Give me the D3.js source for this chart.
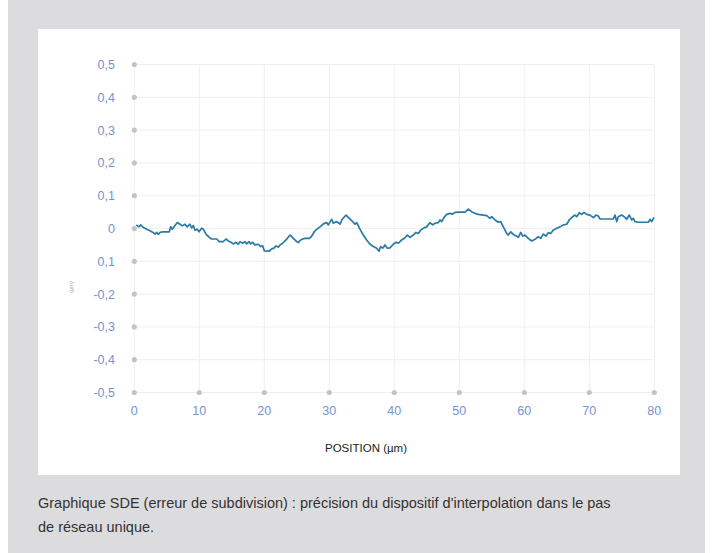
<!DOCTYPE html>
<html>
<head>
<meta charset="utf-8">
<script src="https://cdn.jsdelivr.net/npm/d3@7"></script>
<style>
  html, body { margin: 0; padding: 0; background: #ffffff; }
  svg { display: block; }
</style>
</head>
<body>
<svg id="chart" width="712" height="553"></svg>
<script>
const xTicks = [0, 10, 20, 30, 40, 50, 60, 70, 80];
const yTicks = [0.5, 0.4, 0.3, 0.2, 0.1, 0, -0.1, -0.2, -0.3, -0.4, -0.5];
const yTickLabels = ["0,5", "0,4", "0,3", "0,2", "0,1", "0", "0,1", "-0,2", "-0,3", "-0,4", "-0,5"];
const xTitle = "POSITION (µm)";
const yTitle = "(µm)";
const caption = ["Graphique SDE (erreur de subdivision) : précision du dispositif d'interpolation dans le pas", "de réseau unique."];

const posX = [0.3,0.72,0.98,1.34,1.91,2.42,2.88,3.18,3.45,3.69,3.95,4.46,5.38,5.6,5.85,6.26,6.62,7.03,7.38,7.8,8.15,8.57,8.83,9.08,9.34,9.69,9.95,10.37,10.62,11.03,11.54,11.91,12.68,13.08,13.69,14.11,14.46,14.88,15.23,15.65,16.0,16.26,16.68,17.03,17.29,17.65,17.91,18.22,18.57,19.08,19.45,19.75,20.0,20.77,21.14,21.49,21.8,22.15,22.42,22.83,23.18,23.54,23.95,24.22,24.46,24.88,25.23,25.6,25.91,26.26,26.92,27.29,27.8,28.3,28.57,29.08,29.6,29.85,30.37,30.62,31.03,31.38,31.65,31.91,32.57,33.08,33.6,33.95,34.22,34.72,35.23,35.75,36.26,36.77,37.29,37.65,37.91,38.22,38.57,38.92,39.34,39.85,40.26,40.62,41.14,41.65,42.0,42.42,42.92,43.34,43.69,44.06,44.57,44.98,45.49,45.91,46.26,46.77,47.03,47.29,47.65,48.06,48.57,48.98,49.34,50.11,50.88,51.38,51.91,52.42,52.92,53.69,54.22,54.72,54.98,55.49,56.0,56.37,56.77,57.03,57.29,57.54,57.91,58.31,58.72,59.08,59.45,59.75,60.11,60.62,61.14,61.65,62.15,62.52,62.92,63.34,63.69,64.06,64.46,64.98,65.49,66.0,66.52,66.92,67.45,67.8,68.06,68.46,68.83,69.18,69.6,70.11,70.62,71.03,71.38,71.65,72.68,73.69,73.95,74.22,74.46,74.98,75.49,75.75,76.15,76.52,76.77,77.03,77.54,78.31,79.08,79.34,79.6,79.95];
const sdeValues = [0.011,0.005,0.011,0.004,-0.002,-0.007,-0.012,-0.017,-0.012,-0.018,-0.012,-0.010,-0.010,0.005,-0.002,0.009,0.018,0.013,0.008,0.013,0.005,0.013,0.002,0.009,-0.005,-0.002,-0.010,0.001,-0.002,-0.017,-0.027,-0.032,-0.032,-0.040,-0.040,-0.032,-0.038,-0.042,-0.047,-0.042,-0.048,-0.040,-0.045,-0.040,-0.047,-0.040,-0.047,-0.042,-0.050,-0.048,-0.055,-0.053,-0.068,-0.069,-0.062,-0.060,-0.053,-0.057,-0.050,-0.045,-0.038,-0.030,-0.020,-0.025,-0.030,-0.038,-0.043,-0.035,-0.032,-0.030,-0.030,-0.023,-0.007,0.001,0.005,0.014,0.018,0.011,0.028,0.016,0.021,0.018,0.013,0.026,0.041,0.031,0.021,0.013,0.018,-0.002,-0.020,-0.035,-0.048,-0.055,-0.060,-0.069,-0.055,-0.060,-0.050,-0.060,-0.059,-0.048,-0.042,-0.045,-0.035,-0.028,-0.020,-0.027,-0.020,-0.012,-0.015,-0.005,0.002,0.005,0.018,0.011,0.016,0.018,0.026,0.021,0.034,0.043,0.046,0.044,0.049,0.050,0.050,0.059,0.051,0.046,0.043,0.041,0.039,0.031,0.036,0.026,0.019,0.021,0.005,-0.005,-0.015,-0.020,-0.010,-0.018,-0.022,-0.027,-0.012,-0.023,-0.020,-0.030,-0.038,-0.033,-0.025,-0.030,-0.017,-0.023,-0.013,-0.015,-0.005,0.001,0.005,0.011,0.013,0.026,0.036,0.041,0.036,0.048,0.043,0.049,0.043,0.041,0.033,0.041,0.038,0.029,0.029,0.029,0.041,0.021,0.036,0.041,0.034,0.028,0.041,0.026,0.031,0.021,0.019,0.019,0.019,0.028,0.021,0.034];

const svg = d3.select("#chart");

// page background & panel
svg.append("rect").attr("x", 8).attr("y", 0).attr("width", 697).attr("height", 553).attr("fill", "#dcdcde");
svg.append("rect").attr("x", 38).attr("y", 29).attr("width", 642).attr("height", 446).attr("fill", "#ffffff");

const x = d3.scaleLinear().domain([0, 80]).range([134.3, 654.3]);
const y = d3.scaleLinear().domain([-0.5, 0.5]).range([392.5, 64.5]);

const g = svg.append("g");

// grid
g.selectAll("line.vg").data(xTicks).enter().append("line")
  .attr("x1", d => x(d)).attr("x2", d => x(d))
  .attr("y1", y(0.5)).attr("y2", y(-0.5))
  .attr("stroke", "#efefef").attr("stroke-width", 1);
g.selectAll("line.hg").data(yTicks).enter().append("line")
  .attr("x1", x(0)).attr("x2", x(80))
  .attr("y1", d => y(d)).attr("y2", d => y(d))
  .attr("stroke", "#efefef").attr("stroke-width", 1);

// tick dots
g.selectAll("circle.yd").data(yTicks).enter().append("circle")
  .attr("cx", x(0)).attr("cy", d => y(d)).attr("r", 2.6).attr("fill", "#c4c4c4");
g.selectAll("circle.xd").data(xTicks.slice(1)).enter().append("circle")
  .attr("cx", d => x(d)).attr("cy", y(-0.5)).attr("r", 2.6).attr("fill", "#c4c4c4");

// tick labels
g.selectAll("text.yl").data(yTicks).enter().append("text")
  .attr("x", 115).attr("y", d => y(d) + 4.5)
  .attr("text-anchor", "end")
  .attr("font-family", "Liberation Sans, Arial, sans-serif")
  .attr("font-size", 12.5).attr("fill", "#7393d2")
  .text((d, i) => yTickLabels[i]);
g.selectAll("text.xl").data(xTicks).enter().append("text")
  .attr("x", d => x(d)).attr("y", 415)
  .attr("text-anchor", "middle")
  .attr("font-family", "Liberation Sans, Arial, sans-serif")
  .attr("font-size", 12.5).attr("fill", "#7393d2")
  .text(d => d);

// axis titles
svg.append("text").attr("x", 366).attr("y", 452)
  .attr("text-anchor", "middle")
  .attr("font-family", "Liberation Sans, Arial, sans-serif")
  .attr("font-size", 11.5).attr("fill", "#222")
  .text(xTitle);
svg.append("text")
  .attr("transform", "translate(73,287) rotate(-90)")
  .attr("text-anchor", "middle")
  .attr("font-family", "Liberation Sans, Arial, sans-serif")
  .attr("font-size", 5.5).attr("fill", "#aaa")
  .text(yTitle);

// line
const pts = posX.map((d, i) => [d, sdeValues[i]]);
g.append("path").datum(pts)
  .attr("fill", "none").attr("stroke", "#2a7aa5").attr("stroke-width", 1.7)
  .attr("stroke-linejoin", "round")
  .attr("d", d3.line().x(d => x(d[0])).y(d => y(d[1])));

// caption
svg.selectAll("text.cap").data(caption).enter().append("text")
  .attr("x", 38).attr("y", (d, i) => 508 + i * 24)
  .attr("font-family", "Liberation Sans, Arial, sans-serif")
  .attr("font-size", 14.5).attr("fill", "#333")
  .text(d => d);
</script>
</body>
</html>
